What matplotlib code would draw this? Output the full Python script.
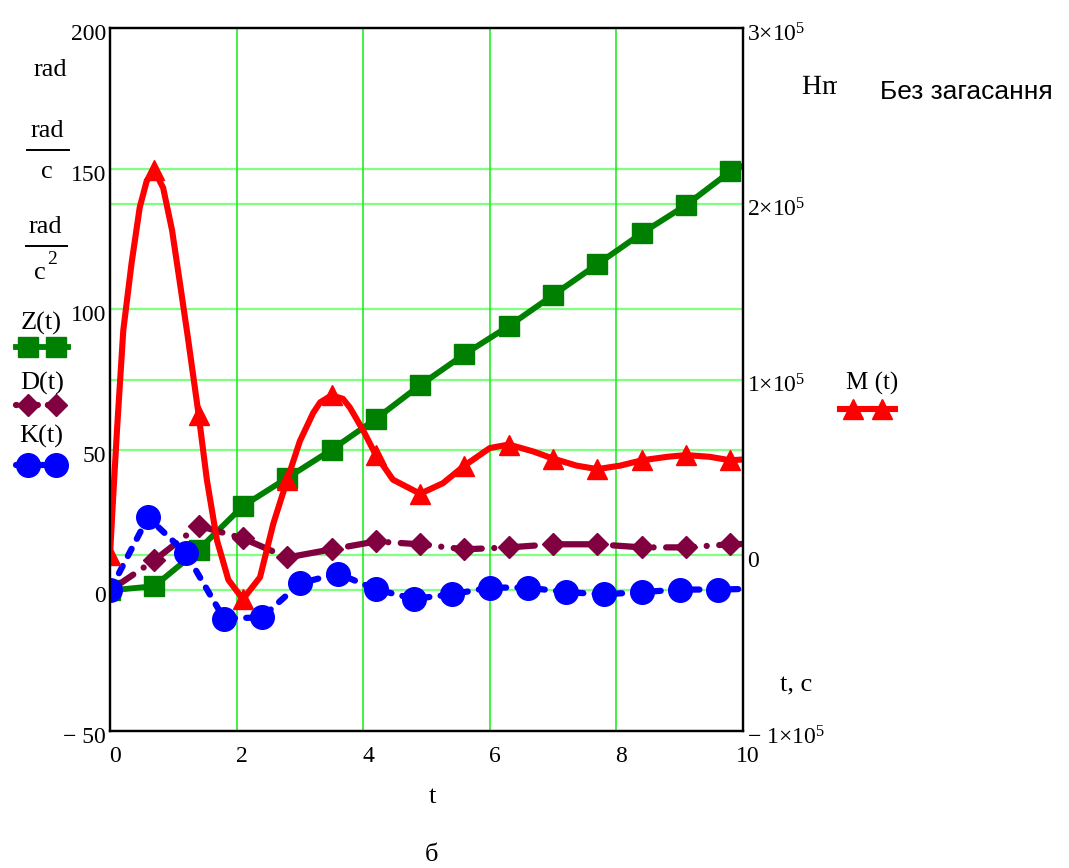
import numpy as np
import matplotlib
matplotlib.use('Agg')
import matplotlib.pyplot as plt
import matplotlib.transforms as mtransforms
from matplotlib.lines import Line2D
from matplotlib.textpath import TextPath
from matplotlib.patches import PathPatch
from matplotlib.font_manager import FontProperties

plt.rcParams['font.family'] = 'Liberation Serif'
plt.rcParams['mathtext.fontset'] = 'custom'
plt.rcParams['mathtext.rm'] = 'Liberation Serif'
plt.rcParams['mathtext.it'] = 'Liberation Serif:italic'

# Z, D (left axis) sampled every 0.7 s, last point is the end of the line
t_zd = [0, 0.7, 1.4, 2.1, 2.8, 3.5, 4.2, 4.9, 5.6, 6.3, 7.0, 7.7, 8.4, 9.1, 9.8, 10.0]
z_vals = [0, 1.5, 14.5, 30, 40, 50, 61, 73, 84, 94, 105, 116, 127, 137, 149, 151]
d_vals = [0, 10.7, 23, 18.5, 11.7, 14.6, 17.4, 16.4, 14.6, 15.3, 16.4, 16.4, 15.3, 15.3, 16.4, 16.5]

# K (left axis) sampled every 0.6 s
t_k = [0, 0.6, 1.2, 1.8, 2.4, 3.0, 3.6, 4.2, 4.8, 5.4, 6.0, 6.6, 7.2, 7.8, 8.4, 9.0, 9.6, 10.0]
k_vals = [0, 26, 13.2, -10, -9.6, 2.5, 6, 0.4, -3, -1.4, 1, 1, -0.6, -1.4, -0.6, 0.3, 0.3, 0.5]

# M (right axis, N*m) read densely along the curve
m_t = [0, 0.05, 0.11, 0.21, 0.34, 0.47, 0.58, 0.7, 0.84, 0.98, 1.1, 1.23, 1.4, 1.53, 1.69,
       1.87, 2.1, 2.37, 2.58, 2.8, 3.0, 3.21, 3.32, 3.5, 3.68, 3.79, 4.0, 4.2, 4.47, 4.9,
       5.26, 5.6, 6.0, 6.3, 6.69, 7.0, 7.37, 7.7, 8.06, 8.4, 8.8, 9.1, 9.48, 9.8, 10.0]
m_vals = [0, 0.33e5, 0.71e5, 1.28e5, 1.66e5, 1.98e5, 2.13e5, 2.19e5, 2.09e5, 1.85e5, 1.56e5,
          1.24e5, 0.80e5, 0.43e5, 0.085e5, -0.14e5, -0.25e5, -0.125e5, 0.18e5, 0.43e5, 0.65e5,
          0.81e5, 0.87e5, 0.91e5, 0.89e5, 0.84e5, 0.71e5, 0.57e5, 0.43e5, 0.35e5, 0.41e5,
          0.51e5, 0.61e5, 0.63e5, 0.59e5, 0.55e5, 0.51e5, 0.49e5, 0.51e5, 0.54e5, 0.56e5,
          0.57e5, 0.56e5, 0.54e5, 0.545e5]

x_ticks = [0, 2, 4, 6, 8, 10]
left_ticks = [-50, 0, 50, 100, 150, 200]
left_labels = ['\u2212 50', '0', '50', '100', '150', '200']
right_ticks = [-1e5, 0, 1e5, 2e5, 3e5]
right_labels = ['\u2212 $1{\\times}10^{5}$', '0', '$1{\\times}10^{5}$',
                '$2{\\times}10^{5}$', '$3{\\times}10^{5}$']

GREEN = '#008000'
MAROON = '#800040'
BLUE = '#0000FF'
RED = '#FF0000'
D_STYLE = (0, (4.5, 2.0, 0.01, 2.0))
K_STYLE = (0, (1.3, 1.8))

W, H = 1069, 868


def fx(x):
    return x / W


def fy(y):
    return 1 - y / H


fig = plt.figure(figsize=(W / 100, H / 100), dpi=100)
ax = fig.add_axes([fx(110), fy(731), 633 / W, 703 / H])
ax.set_xlim(0, 10)
ax.set_ylim(-50, 200)
ax2 = ax.twinx()
ax2.set_ylim(-1e5, 3e5)

# grid: left and right horizontal lines, vertical lines
for v in [0, 50, 100, 150]:
    ax.axhline(v, color='#80FF80', lw=1.6, zorder=0.5)
blend = mtransforms.blended_transform_factory(ax.transAxes, ax2.transData)
for v in [0, 1e5, 2e5]:
    ax.add_line(Line2D([0, 1], [v, v], transform=blend, color='#80FF80', lw=1.6, zorder=0.5))
for v in [2, 4, 6, 8]:
    ax.axvline(v, color='#22EE22', lw=1.2, zorder=0.6)

n_mark = len(t_zd) - 1
ax.plot(t_zd, z_vals, color=GREEN, lw=4.2, marker='s', ms=15, markevery=list(range(n_mark)),
        solid_capstyle='round', zorder=2)
ax.plot(t_zd, d_vals, color=MAROON, lw=4.5, marker='D', ms=11, markevery=list(range(n_mark)),
        linestyle=D_STYLE, dash_capstyle='round', zorder=3)
ax.plot(t_k, k_vals, color=BLUE, lw=4.5, marker='o', ms=17, markevery=list(range(len(t_k) - 1)),
        linestyle=K_STYLE, dash_capstyle='round', zorder=4)

m_marks = [i for i, t in enumerate(m_t) if any(abs(t - s) < 1e-9 for s in t_zd[:-1])]
ax2.plot(m_t, m_vals, color=RED, lw=4.4, marker='^', ms=15, markevery=m_marks,
         solid_capstyle='round', solid_joinstyle='round')

ax.set_xticks(x_ticks)
ax.set_xticklabels([str(v) for v in x_ticks])
ax.set_yticks(left_ticks)
ax.set_yticklabels(left_labels)
ax2.set_yticks(right_ticks)
ax2.set_yticklabels(right_labels)
ax.tick_params(length=0, labelsize=17, pad=3)
ax.tick_params(axis='x', pad=11)
ax2.tick_params(length=0, labelsize=17, pad=3)
for a in (ax, ax2):
    for s in a.spines.values():
        s.set_linewidth(1.6)
        s.set_color('black')

# small nudges of the tick labels, as in the original
shift_x = mtransforms.ScaledTranslation(5 / 100, 0, fig.dpi_scale_trans)
for lab in ax.get_xticklabels():
    lab.set_transform(lab.get_transform() + shift_x)
shift_y = mtransforms.ScaledTranslation(0, -4 / 100, fig.dpi_scale_trans)
for lab in ax.get_yticklabels() + ax2.get_yticklabels():
    lab.set_transform(lab.get_transform() + shift_y)

# left side units and legend
fs = 19
fig.text(fx(50), fy(70), 'rad', fontsize=fs, ha='center', va='center')
fig.text(fx(47), fy(131), 'rad', fontsize=fs, ha='center', va='center')
fig.add_artist(Line2D([fx(27), fx(69)], [fy(150), fy(150)], color='black', lw=1.4))
fig.text(fx(47), fy(172), 'c', fontsize=fs, ha='center', va='center')
fig.text(fx(45), fy(227), 'rad', fontsize=fs, ha='center', va='center')
fig.add_artist(Line2D([fx(26), fx(67)], [fy(246), fy(246)], color='black', lw=1.4))
fig.text(fx(40), fy(273), 'c', fontsize=fs, ha='center', va='center')
fig.text(fx(52), fy(260), '2', fontsize=14, ha='center', va='center')

fig.text(fx(41), fy(323), 'Z(t)', fontsize=fs, ha='center', va='center')
fig.text(fx(42), fy(383), 'D(t)', fontsize=fs, ha='center', va='center')
fig.text(fx(41), fy(436), 'K(t)', fontsize=fs, ha='center', va='center')

sx = [fx(16), fx(28), fx(56), fx(68)]
fig.add_artist(Line2D(sx, [fy(347)] * 4, color=GREEN, lw=4.2, marker='s', ms=15,
                      markevery=[1, 2]))
fig.add_artist(Line2D(sx, [fy(405)] * 4, color=MAROON, lw=4.5, marker='D', ms=11,
                      markevery=[1, 2], linestyle=(0, (0.1, 1.6)), dash_capstyle='round'))
fig.add_artist(Line2D(sx, [fy(465)] * 4, color=BLUE, lw=4.5, marker='o', ms=17,
                      markevery=[1, 2], linestyle=K_STYLE, dash_capstyle='round'))

# right side: unit label cut off at the right edge like in the original
tp = TextPath((0, 0), 'Hm', size=20, prop=FontProperties(family='Liberation Serif'))
hm = PathPatch(tp, facecolor='black', lw=0,
               transform=mtransforms.Affine2D().scale(100 / 72).translate(802, H - 94))
fig.add_artist(hm)
hm.set_clip_box(mtransforms.TransformedBbox(
    mtransforms.Bbox([[0, 0], [837 / W, 1]]), fig.transFigure))
hm.set_clip_on(True)

fig.text(fx(880), fy(92), 'Без загасання', fontsize=19, family='Liberation Sans',
         ha='left', va='center')
fig.text(fx(872), fy(383), 'M (t)', fontsize=18, ha='center', va='center')
fig.add_artist(Line2D([fx(840), fx(853), fx(882), fx(895)], [fy(409)] * 4, color=RED, lw=4.4,
                      marker='^', ms=15, markevery=[1, 2]))
fig.text(fx(796), fy(685), 't, c', fontsize=fs, ha='center', va='center')

fig.text(fx(432), fy(797), 't', fontsize=fs, ha='center', va='center')
fig.text(fx(432), fy(855), 'б', fontsize=fs, ha='center', va='center')

fig.savefig('out.png', dpi=100)
